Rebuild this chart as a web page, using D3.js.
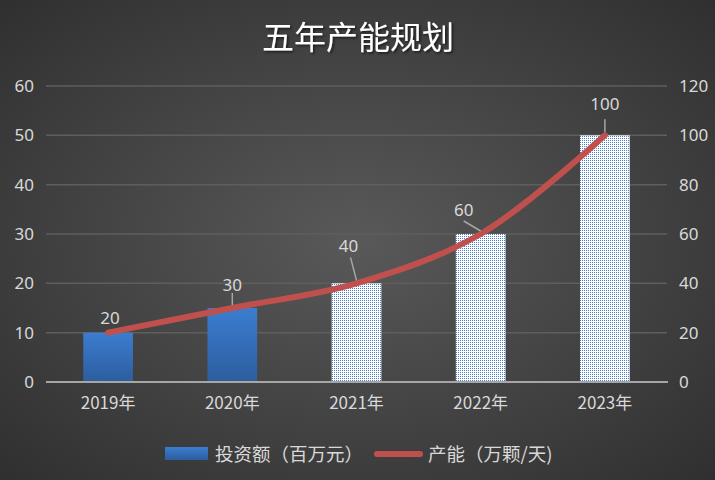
<!DOCTYPE html>
<html lang="zh">
<head>
  <meta charset="UTF-8">
  <title>五年产能规划</title>
  <script src="https://d3js.org/d3.v7.min.js"></script>
  <style>
    body { margin: 0; background: #333; }
    svg text { font-family: "Noto Sans CJK SC", "Liberation Sans", sans-serif; }
  </style>
</head>
<body>
  <svg id="chart" width="715" height="480"></svg>
  <script>
    // data
    const years = ["2019年", "2020年", "2021年", "2022年", "2023年"];
    const investment = [10, 15, 20, 30, 50];      // 投资额（百万元）, left axis
    const capacity = [20, 30, 40, 60, 100];       // 产能（万颗/天）, right axis
    const leftTicks = [0, 10, 20, 30, 40, 50, 60];
    const rightTicks = [0, 20, 40, 60, 80, 100, 120];
    const solidBars = [true, true, false, false, false]; // first two solid, rest dotted

    // where each data label sits relative to its point (layout only)
    const labelShift = [[2, -9], [0, -17], [-8, -31], [-17, -18], [0, -25]];
    const leaderFrom = [null, [0, -15], [-6, -26], [-17, -13], [0, -16]];

    const W = 715, H = 480;
    const margin = { top: 86, right: 48, bottom: 98, left: 46 };
    const svg = d3.select("#chart");
    const defs = svg.append("defs");

    // background
    const bg = defs.append("radialGradient").attr("id", "bg")
      .attr("cx", "50%").attr("cy", "50%").attr("r", "80%");
    bg.append("stop").attr("offset", "0%").attr("stop-color", "#595959");
    bg.append("stop").attr("offset", "100%").attr("stop-color", "#2a2a2a");
    svg.append("rect").attr("width", W).attr("height", H).attr("fill", "url(#bg)");

    const barGrad = defs.append("linearGradient").attr("id", "barGrad")
      .attr("x1", 0).attr("y1", 0).attr("x2", 0).attr("y2", 1);
    barGrad.append("stop").attr("offset", "0%").attr("stop-color", "#3b7dd0");
    barGrad.append("stop").attr("offset", "100%").attr("stop-color", "#2c5d9e");

    const dots = defs.append("pattern").attr("id", "dots")
      .attr("width", 2).attr("height", 2).attr("patternUnits", "userSpaceOnUse");
    dots.append("rect").attr("width", 2).attr("height", 2).attr("fill", "#ffffff");
    dots.append("rect").attr("width", 1).attr("height", 1).attr("fill", "#4a7fcf");

    const shadow = defs.append("filter").attr("id", "tshadow");
    shadow.append("feDropShadow").attr("dx", 1.5).attr("dy", 1.5)
      .attr("stdDeviation", 1).attr("flood-color", "#000").attr("flood-opacity", 0.6);

    const x = d3.scaleBand().domain(years)
      .range([margin.left, W - margin.right])
      .paddingInner(0.6).paddingOuter(0.3);
    const yL = d3.scaleLinear().domain([0, 60]).range([H - margin.bottom, margin.top]);
    const yR = d3.scaleLinear().domain([0, 120]).range([H - margin.bottom, margin.top]);

    // title
    svg.append("text")
      .attr("x", 358).attr("y", 49)
      .attr("text-anchor", "middle")
      .attr("fill", "#ffffff")
      .attr("font-size", 32)
      .attr("filter", "url(#tshadow)")
      .text("五年产能规划");

    // gridlines
    svg.append("g").selectAll("line").data(leftTicks.slice(1)).join("line")
      .attr("x1", margin.left).attr("x2", W - margin.right)
      .attr("y1", d => yL(d)).attr("y2", d => yL(d))
      .attr("stroke", "#5e5e5e").attr("stroke-width", 1.5);

    // left axis
    const leftAxis = svg.append("g")
      .attr("transform", `translate(${margin.left},0)`)
      .call(d3.axisLeft(yL).tickValues(leftTicks).tickSize(0).tickPadding(12));
    leftAxis.select(".domain").remove();

    // right axis
    const rightAxis = svg.append("g")
      .attr("transform", `translate(${W - margin.right},0)`)
      .call(d3.axisRight(yR).tickValues(rightTicks).tickSize(0).tickPadding(12));
    rightAxis.select(".domain").remove();

    [leftAxis, rightAxis].forEach(g => g.selectAll("text")
      .attr("fill", "#d9d9d9").attr("font-size", 17)
      .style("font-family", "'Noto Sans', 'Liberation Sans', sans-serif"));

    // bars
    svg.append("g").selectAll("rect").data(investment).join("rect")
      .attr("x", (d, i) => x(years[i]))
      .attr("width", x.bandwidth())
      .attr("y", d => yL(d))
      .attr("height", d => yL(0) - yL(d))
      .attr("fill", (d, i) => solidBars[i] ? "url(#barGrad)" : "url(#dots)");

    // bottom axis
    const bottomAxis = svg.append("g")
      .attr("transform", `translate(0,${yL(0)})`)
      .call(d3.axisBottom(x).tickSize(0).tickPadding(15));
    bottomAxis.select(".domain")
      .attr("stroke", "#a6a6a6").attr("stroke-width", 2)
      .attr("d", `M${margin.left},0H${W - margin.right + 1}`);
    bottomAxis.selectAll("text").attr("fill", "#d9d9d9").attr("font-size", 17);

    // capacity line
    const pts = capacity.map((v, i) => ({
      x: x(years[i]) + x.bandwidth() / 2, y: yR(v), v: v, i: i
    }));
    svg.append("path")
      .datum(pts)
      .attr("fill", "none")
      .attr("stroke", "#c0504d")
      .attr("stroke-width", 6)
      .attr("stroke-linecap", "round")
      .attr("stroke-linejoin", "round")
      .attr("d", d3.line().x(d => d.x).y(d => d.y).curve(d3.curveCatmullRom.alpha(0.5)));

    // leader lines + data labels
    svg.append("g").selectAll("line").data(pts.filter(d => leaderFrom[d.i])).join("line")
      .attr("x1", d => d.x + leaderFrom[d.i][0])
      .attr("y1", d => d.y + leaderFrom[d.i][1])
      .attr("x2", d => d.x)
      .attr("y2", d => d.y - 3)
      .attr("stroke", "#a6a6a6").attr("stroke-width", 1.5);

    svg.append("g").selectAll("text").data(pts).join("text")
      .attr("x", d => d.x + labelShift[d.i][0])
      .attr("y", d => d.y + labelShift[d.i][1])
      .attr("text-anchor", "middle")
      .attr("fill", "#d9d9d9")
      .attr("font-size", 17)
      .style("font-family", "'Noto Sans', 'Liberation Sans', sans-serif")
      .text(d => d.v);

    // legend
    const legend = svg.append("g").attr("transform", "translate(0,454)");
    legend.append("rect").attr("x", 165).attr("y", -7).attr("width", 43).attr("height", 13)
      .attr("fill", "url(#barGrad)");
    legend.append("text").attr("x", 215).attr("y", 6.5)
      .attr("fill", "#d9d9d9").attr("font-size", 18.5).text("投资额（百万元）");
    legend.append("line").attr("x1", 377).attr("x2", 420).attr("y1", 0).attr("y2", 0)
      .attr("stroke", "#c0504d").attr("stroke-width", 6).attr("stroke-linecap", "round");
    legend.append("text").attr("x", 428).attr("y", 6.5)
      .attr("fill", "#d9d9d9").attr("font-size", 18.5).text("产能（万颗/天)");
  </script>
</body>
</html>
